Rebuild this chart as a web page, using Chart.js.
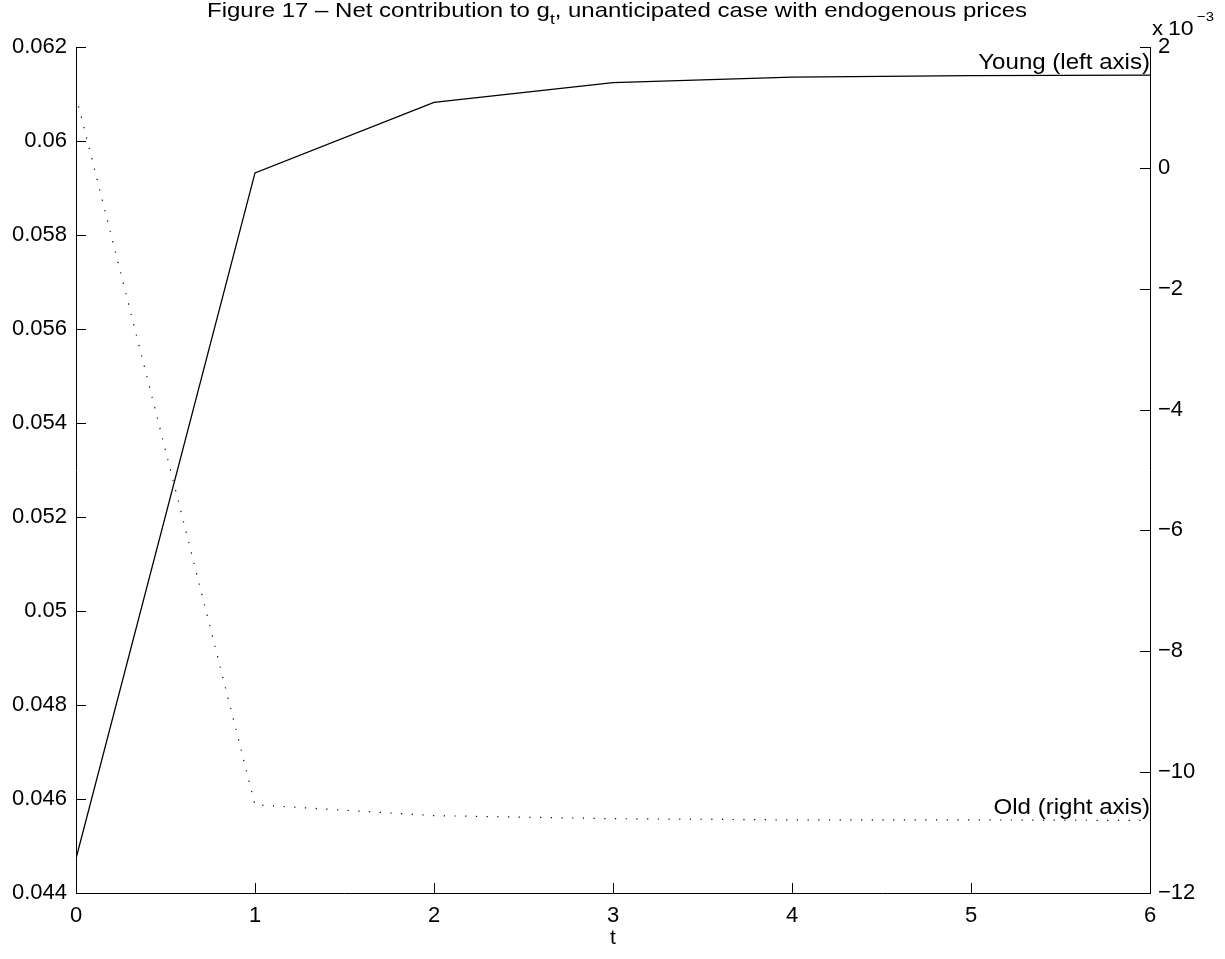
<!DOCTYPE html>
<html>
<head>
<meta charset="utf-8">
<script src="https://cdn.jsdelivr.net/npm/chart.js@4.4.1/dist/chart.umd.min.js"></script>
<style>
  html, body { margin: 0; padding: 0; background: #fff; }
  canvas { display: block; }
</style>
</head>
<body>
<canvas id="c" width="1225" height="959"></canvas>
<script>
// ---- data ----
const periods = [0, 1, 2, 3, 4, 5, 6];
const youngValues = [0.04473, 0.05932, 0.06082, 0.06124, 0.06136, 0.06139, 0.06140];
const oldValues = [0.00119, -0.01054, -0.01072, -0.01077, -0.01079, -0.01079, -0.01080];
const xTickValues = [0, 1, 2, 3, 4, 5, 6];
const leftTickValues = [0.044, 0.046, 0.048, 0.050, 0.052, 0.054, 0.056, 0.058, 0.060, 0.062];
const leftTickLabels = ['0.044', '0.046', '0.048', '0.05', '0.052', '0.054', '0.056', '0.058', '0.06', '0.062'];
const rightTickValues = [-0.012, -0.010, -0.008, -0.006, -0.004, -0.002, 0, 0.002];
const rightTickLabels = ['\u221212', '\u221210', '\u22128', '\u22126', '\u22124', '\u22122', '0', '2'];
const youngLabel = 'Young (left axis)';
const oldLabel = 'Old (right axis)';
const titleParts = ['Figure 17 \u2013 Net contribution to g', 't', ', unanticipated case with endogenous prices'];
const xTitle = 't';

const FONT = '"Liberation Sans", Arial, Helvetica, sans-serif';
const TICK_FS = 22;

const youngData = periods.map((t, i) => ({ x: t, y: youngValues[i] }));
const oldData = periods.map((t, i) => ({ x: t, y: oldValues[i] }));

function setTicks(values) {
  return function (scale) { scale.ticks = values.map(v => ({ value: v })); };
}

function stretchedText(ctx, text, x, y, sx) {
  ctx.save();
  ctx.translate(x, y);
  ctx.scale(sx, 1);
  ctx.fillText(text, 0, 0);
  ctx.restore();
}

const inwardTicks = {
  id: 'inwardTicks',
  afterDraw(chart) {
    const ctx = chart.ctx;
    const a = chart.chartArea;
    const L = 10;
    ctx.save();
    ctx.strokeStyle = '#000';
    ctx.lineWidth = 1;
    ctx.beginPath();
    const sx = chart.scales.x, sy = chart.scales.y, sy2 = chart.scales.y2;
    sx.ticks.forEach(t => {
      const p = Math.round(sx.getPixelForValue(t.value)) + 0.5;
      ctx.moveTo(p, a.bottom); ctx.lineTo(p, a.bottom - L);
    });
    sy.ticks.forEach(t => {
      const p = Math.round(sy.getPixelForValue(t.value)) + 0.5;
      ctx.moveTo(a.left, p); ctx.lineTo(a.left + L, p);
    });
    sy2.ticks.forEach(t => {
      const p = Math.round(sy2.getPixelForValue(t.value)) + 0.5;
      ctx.moveTo(a.right, p); ctx.lineTo(a.right - L, p);
    });
    ctx.stroke();

    // annotations at the end of each line
    ctx.fillStyle = '#000';
    ctx.font = '22.5px ' + FONT;
    ctx.textAlign = 'right';
    ctx.textBaseline = 'bottom';
    const last = periods.length - 1;
    const annSx = 1.07;
    stretchedText(ctx, youngLabel, sx.getPixelForValue(periods[last]), sy.getPixelForValue(youngValues[last]) - 1, annSx);
    stretchedText(ctx, oldLabel, sx.getPixelForValue(periods[last]), sy2.getPixelForValue(oldValues[last]) - 1, annSx);

    // exponent label of right axis
    ctx.textAlign = 'left';
    ctx.textBaseline = 'alphabetic';
    ctx.font = '21px ' + FONT;
    stretchedText(ctx, 'x', a.right + 2, 35, 1.05);
    stretchedText(ctx, '10', a.right + 18, 35, 1.1);
    ctx.font = '13.5px ' + FONT;
    stretchedText(ctx, '\u22123', a.right + 47, 21, 1.1);

    // title with subscript, horizontally stretched to the reference width
    const mainF = '21px ' + FONT, subF = '15px ' + FONT;
    ctx.font = mainF; const w1 = ctx.measureText(titleParts[0]).width;
    ctx.font = subF; const w2 = ctx.measureText(titleParts[1]).width;
    ctx.font = mainF; const w3 = ctx.measureText(titleParts[2]).width;
    const total = w1 + w2 + w3;
    const tsx = 820 / total;
    const cx = 617;
    ctx.translate(cx - total * tsx / 2, 17);
    ctx.scale(tsx, 1);
    let x = 0;
    ctx.font = mainF; ctx.fillText(titleParts[0], x, 0); x += w1;
    ctx.font = subF; ctx.fillText(titleParts[1], x, 7); x += w2;
    ctx.font = mainF; ctx.fillText(titleParts[2], x, 0);
    ctx.restore();
  }
};

new Chart(document.getElementById('c'), {
  type: 'line',
  data: {
    datasets: [
      { label: youngLabel, data: youngData, yAxisID: 'y', borderColor: '#000', borderWidth: 1.3,
        pointRadius: 0, tension: 0, fill: false },
      { label: oldLabel, data: oldData, yAxisID: 'y2', borderColor: '#000', borderWidth: 1.2,
        borderDash: [1.2, 9.5], pointRadius: 0, tension: 0, fill: false }
    ]
  },
  options: {
    responsive: false,
    animation: false,
    devicePixelRatio: 1,
    layout: { padding: { top: 47, left: 0, right: 0, bottom: 0 } },
    plugins: { legend: { display: false }, tooltip: { enabled: false }, title: { display: false } },
    scales: {
      x: {
        type: 'linear', position: 'bottom', min: 0, max: 6,
        afterBuildTicks: setTicks(xTickValues),
        afterFit(s) { s.height = 66; },
        ticks: { color: '#000', font: { family: FONT, size: TICK_FS }, padding: 10, maxRotation: 0,
                 callback: v => String(v) },
        grid: { drawOnChartArea: false, drawTicks: false },
        border: { display: true, color: '#000', width: 1 },
        title: { display: true, text: xTitle, color: '#000', font: { family: FONT, size: 21 },
                 padding: { top: 0, bottom: 8 } }
      },
      y: {
        type: 'linear', position: 'left', min: 0.044, max: 0.062,
        afterBuildTicks: setTicks(leftTickValues),
        afterFit(s) { s.width = 76; },
        ticks: { color: '#000', font: { family: FONT, size: TICK_FS }, padding: 9,
                 callback: (v, i) => leftTickLabels[i] },
        grid: { drawOnChartArea: false, drawTicks: false },
        border: { display: true, color: '#000', width: 1 }
      },
      y2: {
        type: 'linear', position: 'right', min: -0.012, max: 0.002,
        afterBuildTicks: setTicks(rightTickValues),
        afterFit(s) { s.width = 75; },
        ticks: { color: '#000', font: { family: FONT, size: TICK_FS }, padding: 8,
                 callback: (v, i) => rightTickLabels[i] },
        grid: { drawOnChartArea: false, drawTicks: false },
        border: { display: true, color: '#000', width: 1 }
      }
    }
  },
  plugins: [inwardTicks]
});
</script>
</body>
</html>
